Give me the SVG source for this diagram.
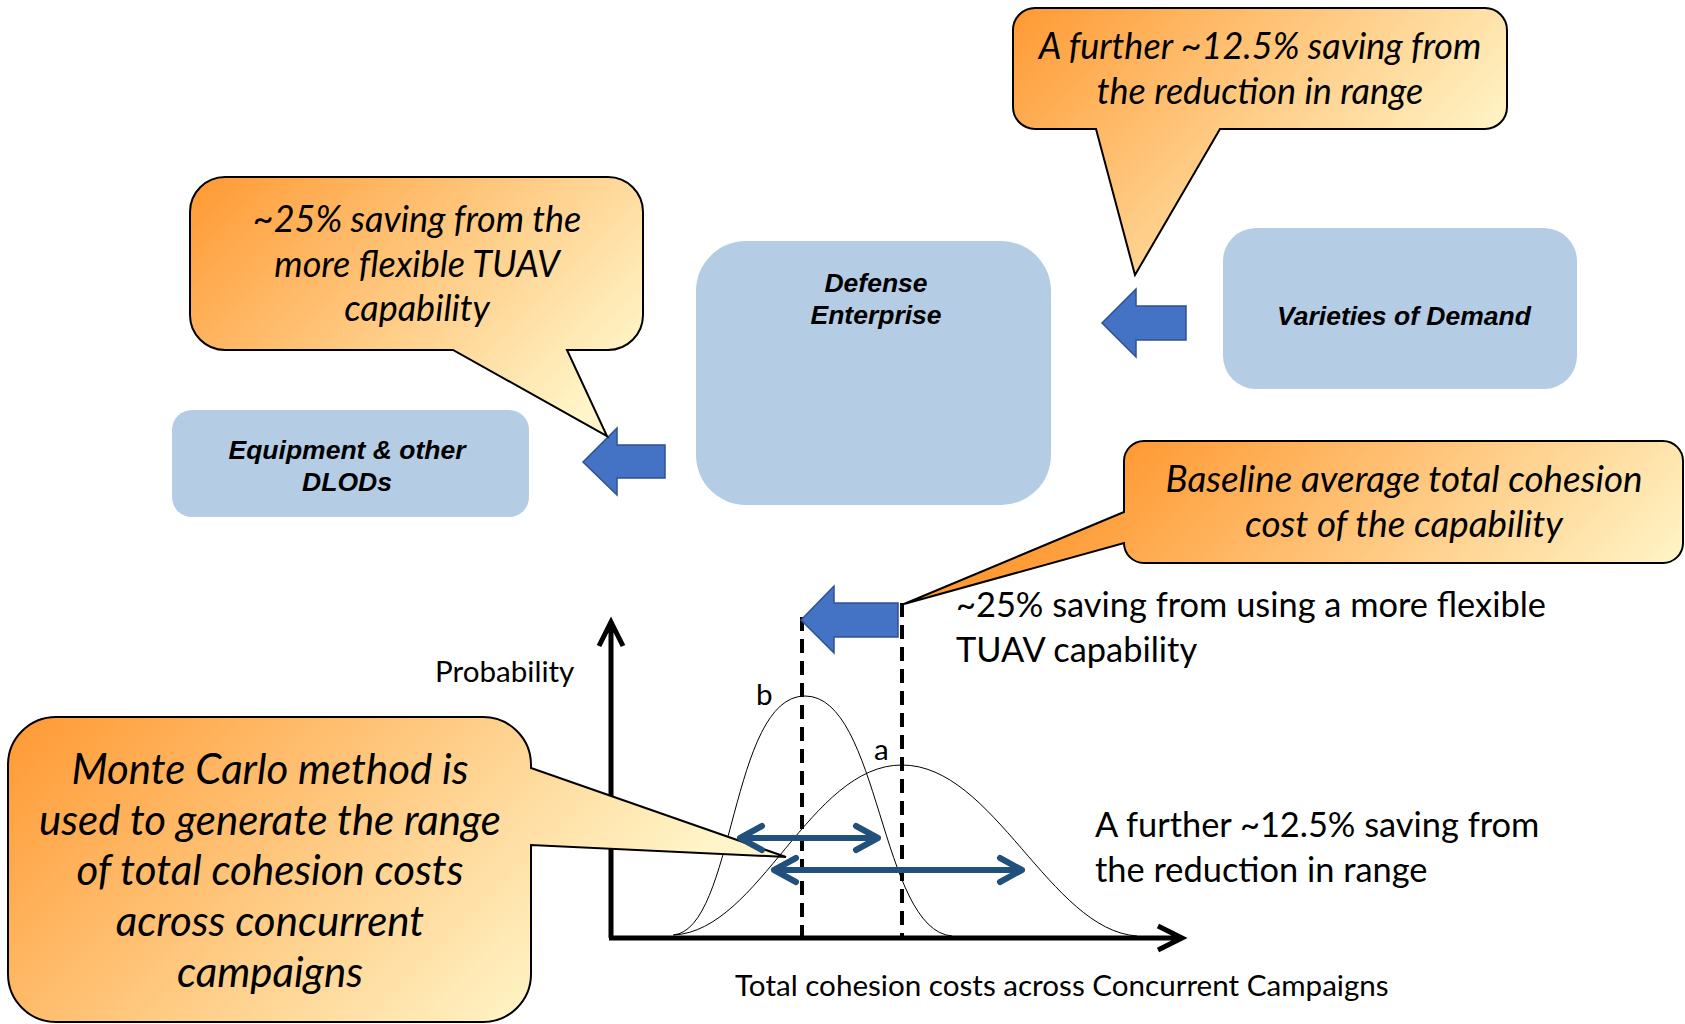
<svg xmlns="http://www.w3.org/2000/svg" width="1685" height="1024" viewBox="0 0 1685 1024">
<defs>
<style>
.box{fill:#B4CCE4;}
.blk{font-family:"Liberation Sans",Arial,sans-serif;font-weight:bold;font-style:italic;font-size:26.5px;fill:#000;text-anchor:middle;}
.call{stroke:#000;stroke-width:2;stroke-linejoin:miter;}
.ct{font-family:Lato,"Open Sans",sans-serif;font-style:italic;font-size:36px;fill:#000;text-anchor:middle;}
.mc{font-family:Lato,"Open Sans",sans-serif;font-style:italic;font-size:42px;fill:#000;text-anchor:middle;}
.rt{font-family:Lato,"Open Sans",sans-serif;font-size:34.4px;fill:#000;}
.st{font-family:Lato,"Open Sans",sans-serif;font-size:29.6px;fill:#000;}
.barrow{fill:#4472C4;stroke:#2F528F;stroke-width:1.5;}
.axis{fill:none;stroke:#000;stroke-width:5;}
.curve{fill:none;stroke:#000;stroke-width:1;}
.dash{fill:none;stroke:#000;stroke-width:4;stroke-dasharray:14 8;}
.dbl{fill:none;stroke:#22507C;stroke-width:6;stroke-linecap:round;stroke-linejoin:round;}
</style>
<linearGradient id="g1" gradientUnits="userSpaceOnUse" x1="1013" y1="8" x2="1320" y2="315"><stop offset="0" stop-color="#FF9933"/><stop offset="1" stop-color="#FFF5C8"/></linearGradient>
<linearGradient id="g2" gradientUnits="userSpaceOnUse" x1="190" y1="177" x2="503" y2="490"><stop offset="0" stop-color="#FF9933"/><stop offset="1" stop-color="#FFF5C8"/></linearGradient>
<linearGradient id="g3" gradientUnits="userSpaceOnUse" x1="1124" y1="441" x2="1464" y2="781"><stop offset="0" stop-color="#FF9933"/><stop offset="1" stop-color="#FFF5C8"/></linearGradient>
<linearGradient id="g4" gradientUnits="userSpaceOnUse" x1="8" y1="717" x2="422" y2="1131"><stop offset="0" stop-color="#FF9933"/><stop offset="1" stop-color="#FFF5C8"/></linearGradient>
</defs>
<rect width="1685" height="1024" fill="#fff"/>

<g id="defense-enterprise">
<rect class="box" x="696" y="241" width="355" height="264" rx="50" ry="50"/>
<text class="blk" x="876" y="292">Defense</text>
<text class="blk" x="876" y="324">Enterprise</text>
</g>
<g id="varieties-of-demand">
<rect class="box" x="1223" y="228" width="354" height="161" rx="33" ry="33"/>
<text class="blk" x="1404" y="325">Varieties of Demand</text>
</g>
<g id="equipment-dlods">
<rect class="box" x="172" y="410" width="357" height="107" rx="20" ry="20"/>
<text class="blk" x="347" y="459">Equipment &amp; other</text>
<text class="blk" x="347" y="491">DLODs</text>
</g>

<g id="connectors">
<polygon class="barrow" points="1102,323 1136,289 1136,306 1186,306 1186,340 1136,340 1136,357"/>
<polygon class="barrow" points="583,462 617,428 617,445 665,445 665,478 617,478 617,495"/>
</g>

<g id="callout-further-top">
<path class="call" fill="url(#g1)" d="M1035,8 H1485 A22,22 0 0 1 1507,30 V107 A22,22 0 0 1 1485,129 H1220 L1135,275 L1096,129 H1035 A22,22 0 0 1 1013,107 V30 A22,22 0 0 1 1035,8 Z"/>
<text class="ct" x="1260" y="59">A further ~12.5% saving from</text>
<text class="ct" x="1260" y="104">the reduction in range</text>
</g>

<g id="callout-25-top">
<path class="call" fill="url(#g2)" d="M225,177 H608 A35,35 0 0 1 643,212 V315 A35,35 0 0 1 608,350 H567 L607,436 L453,350 H225 A35,35 0 0 1 190,315 V212 A35,35 0 0 1 225,177 Z"/>
<text class="ct" x="417" y="232">~25% saving from the</text>
<text class="ct" x="417" y="277">more flexible TUAV</text>
<text class="ct" x="417" y="321">capability</text>
</g>

<g id="callout-baseline">
<path class="call" fill="url(#g3)" d="M1144,441 H1663 A20,20 0 0 1 1683,461 V543 A20,20 0 0 1 1663,563 H1144 A20,20 0 0 1 1124,543 L904,604 L1124,512 V461 A20,20 0 0 1 1144,441 Z"/>
<text class="ct" x="1404" y="492" style="font-size:36.8px">Baseline average total cohesion</text>
<text class="ct" x="1404" y="537" style="font-size:36.8px">cost of the capability</text>
</g>

<g id="chart">
<path class="axis" d="M611,938 V622 M599,646 L611,622 L623,646"/>
<path class="axis" d="M609,938 H1180 M1158,926 L1182,938 L1158,950"/>
<path class="curve" d="M673,935 C735,930 730,696 805,696 C880,696 880,930 952,936"/>
<path class="curve" d="M674,935 C760,930 810,765 902,765 C994,765 1050,930 1137,936"/>
<line class="dash" x1="802" y1="617" x2="802" y2="937"/>
<line class="dash" x1="902" y1="603" x2="902" y2="937"/>
<polygon class="barrow" points="801,620 834,586 834,603 898,603 898,637 834,637 834,653"/>
<text class="st" x="435" y="682">Probability</text>
<text class="st" x="735" y="996">Total cohesion costs across Concurrent Campaigns</text>
<text class="st" x="756" y="705">b</text>
<text class="st" x="874" y="760">a</text>
<text class="rt" x="956" y="617">~25% saving from using a more flexible</text>
<text class="rt" x="956" y="662">TUAV capability</text>
<text class="rt" x="1095" y="837">A further ~12.5% saving from</text>
<text class="rt" x="1095" y="882">the reduction in range</text>
</g>

<g id="callout-monte-carlo">
<path class="call" fill="url(#g4)" d="M56,717 H483 A48,48 0 0 1 531,765 V768 L786,857 L531,845 V974 A48,48 0 0 1 483,1022 H56 A48,48 0 0 1 8,974 V765 A48,48 0 0 1 56,717 Z"/>
<text class="mc" x="270" y="784">Monte Carlo method is</text>
<text class="mc" x="270" y="835">used to generate the range</text>
<text class="mc" x="270" y="885">of total cohesion costs</text>
<text class="mc" x="270" y="936">across concurrent</text>
<text class="mc" x="270" y="987">campaigns</text>
</g>

<g id="range-arrows">
<path class="dbl" d="M740,838 H878 M762,826 L740,838 L762,850 M856,826 L878,838 L856,850"/>
<path class="dbl" d="M774,870 H1022 M796,858 L774,870 L796,882 M1000,858 L1022,870 L1000,882"/>
</g>
</svg>
